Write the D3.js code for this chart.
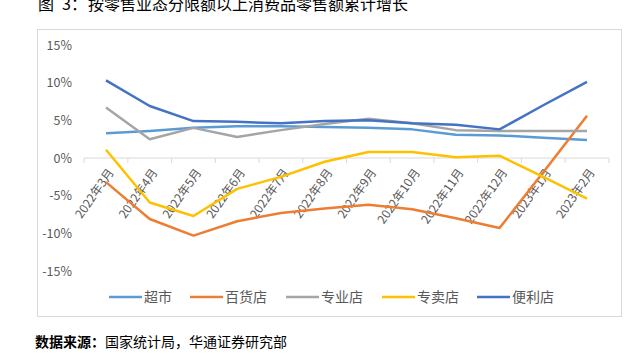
<!DOCTYPE html>
<html>
<head>
<meta charset="utf-8">
<script src="https://cdn.jsdelivr.net/npm/d3@7"></script>
<style>
  body { margin: 0; background: #fff; }
  svg { display: block; }
</style>
</head>
<body>
<div id="chart"></div>
<script>
var width = 638, height = 354;

var months = ['2022年3月', '2022年4月', '2022年5月', '2022年6月', '2022年7月', '2022年8月',
    '2022年9月', '2022年10月', '2022年11月', '2022年12月', '2023年1月', '2023年2月'];
var seriesNames = ['超市', '百货店', '专业店', '专卖店', '便利店'];
var seriesColors = ['#5b9bd5', '#ed7d31', '#a5a5a5', '#ffc000', '#4472c4'];
var chaoshi   = [3.3, 3.6, 4.0, 4.2, 4.2, 4.1, 4.0, 3.8, 3.1, 3.0, 2.7, 2.4];
var baihuo    = [-3.2, -8.1, -10.3, -8.4, -7.3, -6.7, -6.2, -6.8, -8.0, -9.3, -1.9, 5.6];
var zhuanye   = [6.7, 2.5, 4.0, 2.8, 3.7, 4.5, 5.2, 4.6, 3.7, 3.6, 3.6, 3.6];
var zhuanmai  = [1.1, -5.9, -7.7, -4.1, -2.5, -0.5, 0.8, 0.8, 0.1, 0.3, -2.5, -5.4];
var bianli    = [10.3, 6.9, 4.9, 4.8, 4.6, 4.9, 5.0, 4.6, 4.4, 3.8, 7.0, 10.1];
var allSeries = [chaoshi, baihuo, zhuanye, zhuanmai, bianli];
var yTicks = [15, 10, 5, 0, -5, -10, -15];

var font = '"Noto Sans CJK SC", "Noto Sans", sans-serif';

var svg = d3.select('#chart').append('svg')
    .attr('width', width)
    .attr('height', height);

// title (cut at top like the source)
var title = svg.append('text')
    .attr('y', 10)
    .style('font-family', font)
    .style('font-size', '16px')
    .attr('fill', '#000');
title.append('tspan').attr('x', 38).text('图');
title.append('tspan').attr('x', 62).text('3：');
title.append('tspan').attr('x', 88).text('按零售业态分限额以上消费品零售额累计增长');

// chart frame
svg.append('rect')
    .attr('x', 37.5).attr('y', 29.5)
    .attr('width', 584).attr('height', 287)
    .attr('fill', '#fff')
    .attr('stroke', '#d9d9d9');

var x = d3.scalePoint().domain(months).range([106, 587]);
var y = d3.scaleLinear().domain([-15, 15]).range([271, 45]);

// y labels
var yAxis = d3.axisLeft(y).tickValues(yTicks).tickSize(0).tickPadding(0)
    .tickFormat(function (d) { return d + '%'; });
svg.append('g')
    .attr('transform', 'translate(72,0)')
    .call(yAxis)
    .call(function (g) { g.select('.domain').remove(); })
    .selectAll('text')
    .style('font-family', font)
    .style('font-size', '12.5px')
    .attr('fill', '#595959');

// zero axis with tick marks between categories
var step = x.step();
var xLeft = 106 - step / 2, xRight = 587 + step / 2;
svg.append('line')
    .attr('x1', xLeft).attr('x2', xRight)
    .attr('y1', y(0)).attr('y2', y(0))
    .attr('stroke', '#d9d9d9');
svg.append('g').selectAll('line')
    .data(d3.range(months.length + 1))
    .enter().append('line')
    .attr('x1', function (i) { return xLeft + i * step; })
    .attr('x2', function (i) { return xLeft + i * step; })
    .attr('y1', y(0)).attr('y2', y(0) + 5)
    .attr('stroke', '#d9d9d9');

// x labels rotated
svg.append('g').selectAll('text')
    .data(months)
    .enter().append('text')
    .attr('transform', function (d) { return 'translate(' + (x(d) + 5) + ',' + (y(0) + 12) + ') rotate(-55)'; })
    .attr('text-anchor', 'end')
    .attr('dy', '0.35em')
    .style('font-family', font)
    .style('font-size', '12px')
    .attr('fill', '#595959')
    .text(function (d) { return d; });

// lines
var line = d3.line()
    .x(function (d, i) { return x(months[i]); })
    .y(function (d) { return y(d); });

svg.append('g').selectAll('path')
    .data(allSeries)
    .enter().append('path')
    .attr('d', line)
    .attr('fill', 'none')
    .attr('stroke', function (d, i) { return seriesColors[i]; })
    .attr('stroke-width', 2.5)
    .attr('stroke-linejoin', 'round');

// legend
var legendX = [109, 190, 286, 382, 477];
var lg = svg.append('g').selectAll('g')
    .data(seriesNames)
    .enter().append('g')
    .attr('transform', function (d, i) { return 'translate(' + legendX[i] + ',297)'; });
lg.append('line')
    .attr('x1', 0).attr('x2', 33)
    .attr('stroke', function (d, i) { return seriesColors[i]; })
    .attr('stroke-width', 2.5);
lg.append('text')
    .attr('x', 35).attr('dy', '0.35em')
    .style('font-family', font)
    .style('font-size', '14px')
    .attr('fill', '#595959')
    .text(function (d) { return d; });

// source
var src = svg.append('text')
    .attr('x', 35).attr('y', 347)
    .style('font-family', font)
    .style('font-size', '14px')
    .attr('fill', '#000');
src.append('tspan').style('font-weight', 'bold').text('数据来源：');
src.append('tspan').text('国家统计局，华通证券研究部');
</script>
</body>
</html>
